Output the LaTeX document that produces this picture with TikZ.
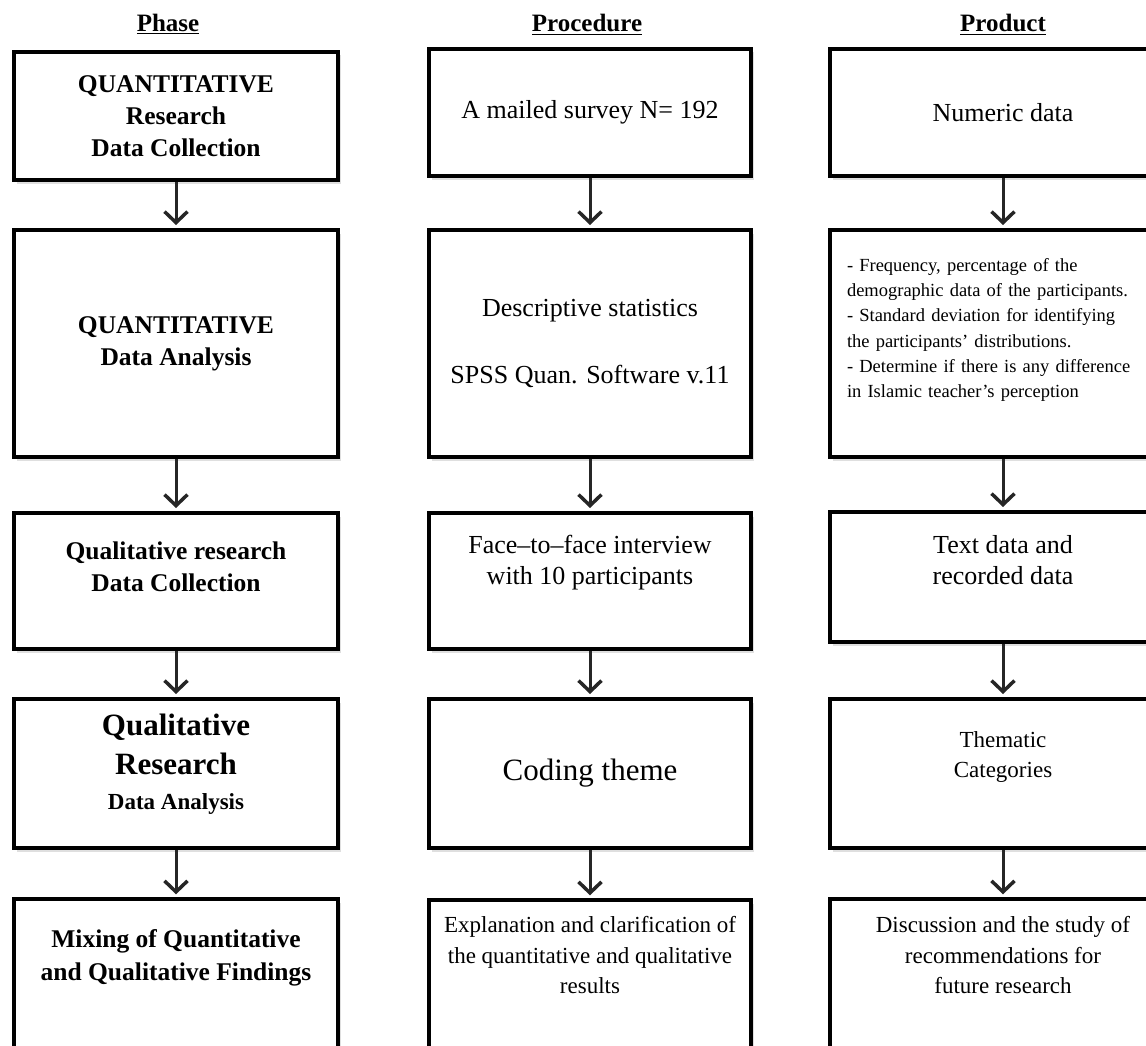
\documentclass[tikz,border=0pt]{standalone}
\usepackage{fontspec}
\setmainfont{Liberation Serif}
\usetikzlibrary{arrows.meta,positioning,shadows}

\tikzset{
  box/.style={draw=black,line width=4pt,fill=white,align=center,inner sep=4pt,
    drop shadow={shadow xshift=3pt,shadow yshift=-3.5pt,fill=black!25}},
  phbox/.style={box,minimum width=324pt,font=\bfseries\fontsize{25.5}{32}\selectfont},
  prbox/.style={box,minimum width=322pt,font=\fontsize{26}{31}\selectfont},
  pdbox/.style={box,minimum width=346pt,font=\fontsize{26}{31}\selectfont},
  head/.style={anchor=base,font=\bfseries\fontsize{25}{30}\selectfont},
  lowtxt/.style={align=center,inner sep=0pt},
  arr/.style={draw=black!85,line width=3pt,shorten >=3pt,
    -{Straight Barb[length=11pt,width=23pt,line width=3.5pt]}},
}

\begin{document}
\begin{tikzpicture}[x=1pt,y=-1pt]
  \clip (0,0) rectangle (1146,1046);

  % column heads
  \node[head] (hph) at (168,32) {\underline{Phase}};
  \node[head] (hpr) at (587,32) {\underline{Procedure}};
  \node[head] (hpd) at (1003,32) {\underline{Product}};

  % phase
  \node[phbox,minimum height=128pt] (ph1) at (176,116) {QUANTITATIVE\\Research\\Data Collection};
  \node[phbox,minimum height=227pt] (ph2) at (176,343.5) {QUANTITATIVE\\Data Analysis};
  \node[phbox,minimum height=136pt,text depth=28pt] (ph3) at (176,581) {Qualitative research\\Data Collection};
  \node[phbox,minimum height=149pt,text depth=24pt] (ph4) at (176,773.5)
    {{\fontsize{31}{36}\selectfont Qualitative}\\[7pt]{\fontsize{31}{36}\selectfont Research}\\[3pt]{\fontsize{23}{30}\selectfont Data Analysis}};
  \node[phbox,minimum height=248.5pt,anchor=north] (ph5) at (176,897.3) {};
  \node[lowtxt,below=32pt of ph5.north,font=\bfseries\fontsize{25.5}{33}\selectfont] (ph5t)
    {Mixing of Quantitative\\and Qualitative Findings};

  % procedure
  \node[prbox,minimum height=127pt] (pr1) at (590,112.5) {A mailed survey N= 192};
  \node[prbox,minimum height=227pt] (pr2) at (590,343.5) {Descriptive statistics\\[36pt]SPSS Quan. Software v.11};
  \node[prbox,minimum height=136pt,text depth=42pt] (pr3) at (590,581) {Face--to--face interview\\with 10 participants};
  \node[prbox,minimum height=149pt,font=\fontsize{31}{36}\selectfont] (pr4) at (590,773.5) {Coding theme};
  \node[prbox,minimum height=248.5pt,anchor=north] (pr5) at (590,898.3) {};
  \node[lowtxt,below=18pt of pr5.north,font=\fontsize{23}{30.5}\selectfont] (pr5t)
    {Explanation and clarification of\\the quantitative and qualitative\\results};

  % product
  \node[pdbox,minimum height=127pt] (pd1) at (1003,112.5) {Numeric data};
  \node[pdbox,minimum height=227pt,align=left,text width=312pt,text depth=157pt,
        font=\fontsize{18.5}{25.2}\selectfont] (pd2) at (1003,343.5)
    {- Frequency, percentage of the\\demographic data of the participants.\\- Standard deviation for identifying\\the participants’ distributions.\\- Determine if there is any difference\\in Islamic teacher’s perception};
  \node[pdbox,minimum height=130pt,text depth=34pt] (pd3) at (1003,577) {Text data and\\recorded data};
  \node[pdbox,minimum height=149pt,text depth=38pt,font=\fontsize{23}{30}\selectfont] (pd4) at (1003,773.5) {Thematic\\Categories};
  \node[pdbox,minimum height=248.5pt,anchor=north] (pd5) at (1003,897.3) {};
  \node[lowtxt,below=19pt of pd5.north,font=\fontsize{23}{30.5}\selectfont] (pd5t)
    {Discussion and the study of\\recommendations for\\future research};

  % arrows down each column
  \foreach \c in {ph,pr,pd}
    \foreach \a/\b in {1/2,2/3,3/4,4/5}
      \draw[arr] (\c\a.south) -- (\c\b.north);
\end{tikzpicture}
\end{document}
